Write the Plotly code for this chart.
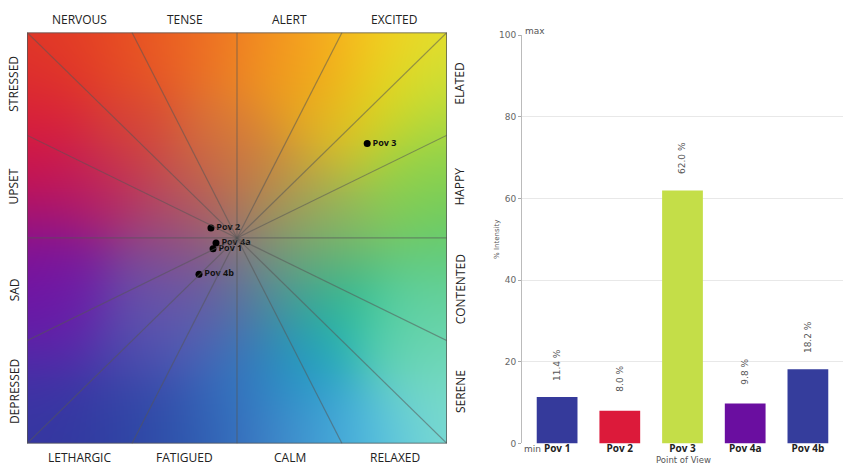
import numpy as np
import plotly.graph_objects as go
import zlib, struct, base64

# ---------------- data ----------------
pov_names = ["Pov 1", "Pov 2", "Pov 3", "Pov 4a", "Pov 4b"]
valence = [-0.114, -0.124, 0.62, -0.10, -0.181]     # x position on mood square (-1..1)
arousal = [-0.052, 0.048, 0.46, -0.024, -0.176]     # y position on mood square (-1..1)
intensity = [11.4, 8.0, 62.0, 9.8, 18.2]            # % intensity
bar_colors = ["#353a9b", "#dc1a3a", "#c4de48", "#6a0ea0", "#353d9c"]

top_labels = ["NERVOUS", "TENSE", "ALERT", "EXCITED"]
bottom_labels = ["LETHARGIC", "FATIGUED", "CALM", "RELAXED"]
left_labels = ["STRESSED", "UPSET", "SAD", "DEPRESSED"]      # top -> bottom
right_labels = ["ELATED", "HAPPY", "CONTENTED", "SERENE"]    # top -> bottom
section_centers = [-0.75, -0.25, 0.25, 0.75]
spoke_edge = [-1.0, -0.5, 0.0, 0.5, 1.0]
y_ticks = [0, 20, 40, 60, 80, 100]

# ---------------- background colour field (style) ----------------
N = 420
ctrl = [
    # perimeter (u from left, v from top, in px of the 420 square)
    (0, 0, (224, 56, 40)), (53, 0, (228, 62, 36)), (105, 0, (232, 82, 35)), (158, 0, (236, 102, 35)),
    (210, 0, (240, 125, 35)), (263, 0, (245, 152, 35)), (315, 0, (248, 186, 30)), (368, 0, (246, 212, 28)),
    (420, 0, (228, 226, 50)),
    (420, 53, (200, 226, 60)), (420, 105, (160, 216, 70)), (420, 158, (115, 205, 90)), (420, 210, (90, 200, 112)),
    (420, 263, (100, 208, 150)), (420, 315, (112, 214, 178)), (420, 368, (122, 220, 200)), (420, 420, (132, 225, 210)),
    (368, 420, (92, 196, 226)), (315, 420, (62, 172, 220)), (263, 420, (72, 142, 205)), (210, 420, (52, 110, 190)),
    (158, 420, (46, 86, 172)), (105, 420, (46, 70, 165)), (53, 420, (50, 56, 160)), (0, 420, (55, 55, 160)),
    (0, 368, (56, 54, 165)), (0, 315, (90, 40, 170)), (0, 263, (112, 14, 166)), (0, 210, (150, 20, 130)),
    (0, 158, (200, 15, 82)), (0, 105, (215, 25, 65)), (0, 53, (222, 45, 45)),
    # interior
    (106, 102, (216, 70, 52)), (206, 102, (222, 122, 55)), (306, 102, (222, 192, 38)),
    (273, 52, (242, 160, 22)), (363, 72, (232, 220, 22)), (390, 152, (150, 210, 70)),
    (320, 200, (140, 190, 95)), (306, 269, (20, 188, 152)), (373, 302, (90, 210, 170)),
    (273, 335, (30, 160, 200)), (206, 335, (52, 110, 190)), (106, 335, (62, 70, 170)),
    (40, 269, (100, 40, 170)), (18, 259, (116, 10, 170)), (73, 169, (185, 35, 100)),
    (123, 269, (100, 80, 170)), (140, 285, (95, 95, 185)),
    # ring around centre
    (210, 150, (205, 112, 62)), (252, 168, (192, 160, 70)), (270, 210, (140, 172, 100)),
    (252, 252, (70, 160, 150)), (210, 270, (80, 110, 172)), (168, 252, (112, 80, 160)),
    (150, 210, (172, 62, 118)), (168, 168, (192, 80, 80)),
    (210, 210, (145, 118, 118)),
]
uu = np.arange(N) + 0.5
U, V = np.meshgrid(uu, uu)
sig = 42.0
num = np.zeros((N, N, 3))
den = np.zeros((N, N))
for (cu, cv, col) in ctrl:
    w = np.exp(-((U - cu) ** 2 + (V - cv) ** 2) / (2 * sig * sig))
    den += w
    num += w[..., None] * np.array(col, dtype=float)
img = np.clip(num / den[..., None], 0, 255).astype(np.uint8)


def to_png(arr):
    h, w, _ = arr.shape
    raw = b"".join(b"\x00" + arr[r].tobytes() for r in range(h))

    def chunk(tag, data):
        return struct.pack(">I", len(data)) + tag + data + struct.pack(">I", zlib.crc32(tag + data) & 0xFFFFFFFF)

    return (b"\x89PNG\r\n\x1a\n" + chunk(b"IHDR", struct.pack(">IIBBBBB", w, h, 8, 2, 0, 0, 0))
            + chunk(b"IDAT", zlib.compress(raw, 9)) + chunk(b"IEND", b""))


src = "data:image/png;base64," + base64.b64encode(to_png(img)).decode()

# ---------------- figure ----------------
W, H = 843, 471
SQ_L, SQ_T, SQ = 27, 28, 420


def px(c):   # square x (-1..1) -> paper x
    return (SQ_L + (c + 1) / 2 * SQ) / W


def py(c):   # square y (-1..1) -> paper y
    return 1 - (SQ_T + (1 - c) / 2 * SQ) / H


fig = go.Figure()

fig.add_trace(go.Scatter(
    x=valence, y=arousal, mode="markers+text", xaxis="x", yaxis="y",
    text=["<b>" + n + "</b>" for n in pov_names], textposition="middle right",
    textfont=dict(size=9, color="#111", family="Open Sans"),
    marker=dict(size=7, color="#000"), hoverinfo="skip", showlegend=False, cliponaxis=False))

fig.add_trace(go.Bar(
    x=pov_names, y=intensity, xaxis="x2", yaxis="y2", width=0.65,
    marker=dict(color=bar_colors, line=dict(width=0)), showlegend=False))

shapes = []
perim = set()
for e in spoke_edge:
    perim |= {(e, 1.0), (e, -1.0), (1.0, e), (-1.0, e)}
for (sx, sy) in sorted(perim):
    shapes.append(dict(type="line", xref="x", yref="y", x0=0, y0=0, x1=sx, y1=sy,
                       line=dict(color="rgba(85,85,85,0.55)", width=1.2), layer="above"))
shapes.append(dict(type="rect", xref="x", yref="y", x0=-1, y0=-1, x1=1, y1=1,
                   line=dict(color="#555", width=1.5), layer="above"))

lab_font = dict(size=12, color="#222", family="Open Sans")
ann = []
C = dict(xref="paper", yref="paper", showarrow=False, font=lab_font, xanchor="center", yanchor="middle")
for c, t in zip(section_centers, top_labels):
    ann.append(dict(x=px(c), y=1 - 15 / H, text=t, **C))
for c, t in zip(section_centers, bottom_labels):
    ann.append(dict(x=px(c), y=1 - 462 / H, text=t, **C))
for c, t in zip(section_centers[::-1], left_labels):
    ann.append(dict(x=14 / W, y=py(c), text=t, textangle=-90, **C))
for c, t in zip(section_centers[::-1], right_labels):
    ann.append(dict(x=460 / W, y=py(c), text=t, textangle=-90, **C))

val_font = dict(size=9, color="#555", family="DejaVu Sans")
for n, v in zip(pov_names, intensity):
    ann.append(dict(x=n, y=v, xref="x2", yref="y2", text=f"{v:.1f} %", showarrow=False,
                    textangle=-90, font=val_font, yanchor="middle", yshift=32))

small = dict(size=9, color="#555", family="DejaVu Sans")
ann.append(dict(x=0.003, y=100, xref="x2 domain", yref="y2", text="max", showarrow=False,
                xanchor="left", yanchor="middle", yshift=4, font=small))
ann.append(dict(x=0.0, y=0, xref="x2 domain", yref="y2", text="min", showarrow=False,
                xanchor="left", yanchor="middle", yshift=-6, font=small))
ann.append(dict(x=683 / W, y=1 - 465 / H, xref="paper", yref="paper", text="Point of View", showarrow=False,
                xanchor="center", yanchor="middle", font=dict(size=8.5, color="#555", family="DejaVu Sans")))
ann.append(dict(x=497 / W, y=1 - 240 / H, xref="paper", yref="paper", text="% Intensity", showarrow=False,
                xanchor="center", yanchor="middle", textangle=-90,
                font=dict(size=7, color="#555", family="DejaVu Sans")))

fig.update_layout(
    width=W, height=H, margin=dict(l=0, r=0, t=0, b=0),
    paper_bgcolor="white", plot_bgcolor="white",
    xaxis=dict(domain=[SQ_L / W, (SQ_L + SQ) / W], range=[-1, 1], visible=False, fixedrange=True),
    yaxis=dict(domain=[1 - (SQ_T + SQ) / H, 1 - SQ_T / H], range=[-1, 1], visible=False, fixedrange=True),
    xaxis2=dict(domain=[522 / W, 1.0], range=[-0.56, 4.56], anchor="y2",
                tickvals=pov_names, ticktext=["<b>" + n + "</b>" for n in pov_names],
                tickfont=dict(size=10, color="#222", family="Open Sans"), ticks="", showline=False,
                showgrid=False, zeroline=False, ticklabelstandoff=-2),
    yaxis2=dict(domain=[23 / H, 440 / H], range=[0, 100], anchor="x2", tickvals=y_ticks,
                tickfont=dict(size=9, color="#666", family="DejaVu Sans"), ticks="outside", ticklen=3,
                tickcolor="#aaa", showline=True, linecolor="#bbb", linewidth=1,
                gridcolor="#e8e8e8", zeroline=False),
    images=[dict(source=src, xref="x", yref="y", x=-1, y=1, sizex=2, sizey=2, xanchor="left",
                 yanchor="top", sizing="stretch", layer="below")],
    shapes=shapes, annotations=ann,
)

fig.write_html("out.html", config={"displayModeBar": False},
               post_script="document.body.style.margin='0';")
